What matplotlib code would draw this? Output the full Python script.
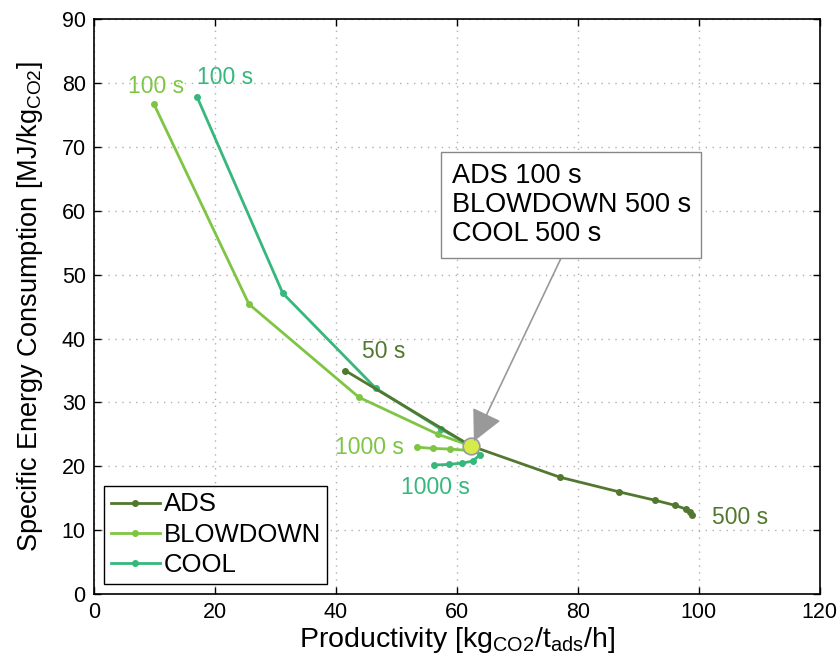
import numpy as np
import matplotlib
matplotlib.use("Agg")
import matplotlib.pyplot as plt

plt.rcParams['font.family'] = ['Liberation Sans', 'DejaVu Sans']
plt.rcParams['mathtext.fontset'] = 'custom'
plt.rcParams['mathtext.rm'] = 'Liberation Sans'
plt.rcParams['mathtext.it'] = 'Liberation Sans'

# data
ads_x = [41.5, 62.3, 77.0, 86.8, 92.7, 96.0, 97.9, 98.6, 98.9]
ads_y = [35.0, 23.2, 18.3, 16.0, 14.7, 13.9, 13.3, 12.9, 12.4]

blow_x = [9.9, 25.6, 43.8, 56.9, 62.3, 61.7, 58.8, 56.0, 53.4]
blow_y = [76.7, 45.4, 30.8, 25.0, 23.2, 22.5, 22.7, 22.8, 23.0]

cool_x = [17.0, 31.2, 46.6, 57.4, 62.3, 63.8, 62.6, 60.8, 58.7, 56.2]
cool_y = [77.9, 47.1, 32.2, 25.8, 23.2, 21.8, 20.8, 20.5, 20.3, 20.2]

best = (62.3, 23.2)

c_ads = '#52782f'
c_blow = '#7ec544'
c_cool = '#36b77c'

fig = plt.figure(figsize=(8.4, 6.63), dpi=100)
ax = fig.add_axes([0.112, 0.104, 0.864, 0.867])

ax.plot(ads_x, ads_y, '-o', c=c_ads, lw=2.0, ms=4, label='ADS', zorder=4)
ax.plot(blow_x, blow_y, '-o', c=c_blow, lw=2.0, ms=4, label='BLOWDOWN', zorder=2)
ax.plot(cool_x, cool_y, '-o', c=c_cool, lw=2.0, ms=4, label='COOL', zorder=3)
ax.plot(*best, 'o', ms=12, mfc='#d6ea4a', mec='#9a9a9a', mew=1.2, zorder=5)

fs = 16.5
ax.text(10.3, 79.5, '100 s', color=c_blow, fontsize=fs, ha='center', va='center')
ax.text(21.6, 80.9, '100 s', color=c_cool, fontsize=fs, ha='center', va='center')
ax.text(44.3, 37.9, '50 s', color=c_ads, fontsize=fs, ha='left', va='center')
ax.text(102.1, 12.0, '500 s', color=c_ads, fontsize=fs, ha='left', va='center')
ax.text(51.2, 23.0, '1000 s', color=c_blow, fontsize=fs, ha='right', va='center')
ax.text(56.5, 16.7, '1000 s', color=c_cool, fontsize=fs, ha='center', va='center')

ax.annotate('ADS 100 s\nBLOWDOWN 500 s\nCOOL 500 s', xy=(62.8, 23.9), xytext=(59.1, 60.9),
            fontsize=19.5, ha='left', va='center', linespacing=1.15,
            bbox=dict(boxstyle='square,pad=0.4', fc='white', ec='#888888', lw=1.0),
            arrowprops=dict(arrowstyle='-|>,head_length=1.0,head_width=0.5', color='#999999',
                            lw=1.2, shrinkA=0, shrinkB=0, relpos=(0.48, 0.0)),
            zorder=6)

ax.set_xlim(0, 120)
ax.set_ylim(0, 90)
ax.set_xticks(np.arange(0, 121, 20))
ax.set_yticks(np.arange(0, 91, 10))
ax.tick_params(direction='in', top=True, right=True, labelsize=15.5, length=5, width=1, pad=6)
ax.grid(True, ls=(0, (1, 4)), color='#b0b0b0', lw=1.0)
for s in ax.spines.values():
    s.set_linewidth(1.2)

ax.set_xlabel(r'Productivity [kg$_{\mathrm{CO2}}$/t$_{\mathrm{ads}}$/h]', fontsize=20.5, labelpad=1)
ax.set_ylabel(r'Specific Energy Consumption [MJ/kg$_{\mathrm{CO2}}$]', fontsize=19.5, labelpad=12)

leg = ax.legend(loc='lower left', fontsize=18.5, fancybox=False, framealpha=1,
                edgecolor='black', handlelength=1.9, handletextpad=0.15,
                labelspacing=0.25, borderpad=0.25, borderaxespad=0.4)
leg.get_frame().set_linewidth(1.0)

fig.savefig('out.png', dpi=100)
